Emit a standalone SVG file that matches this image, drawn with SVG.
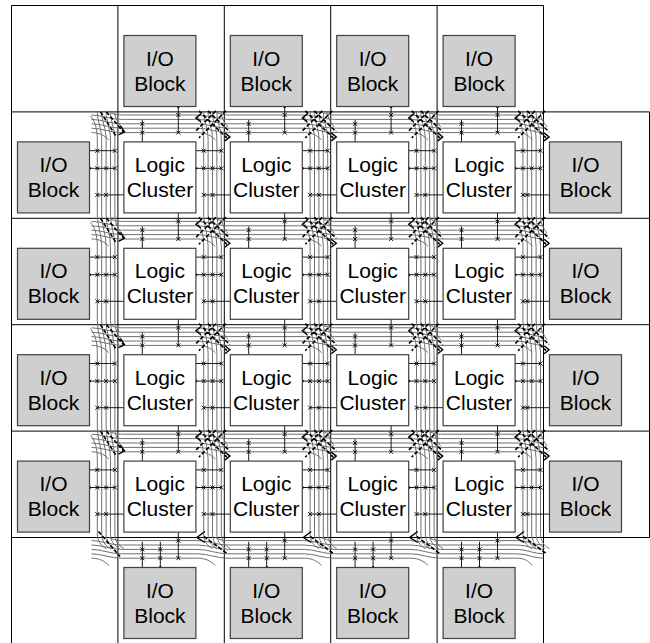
<svg xmlns="http://www.w3.org/2000/svg" xmlns:xlink="http://www.w3.org/1999/xlink" width="650" height="643" viewBox="0 0 650 643">
<style>
.tb{stroke:#000;stroke-width:1;fill:none}
.tr{stroke:#707070;stroke-width:1;fill:none}
.pn{stroke:#000;stroke-width:0.9;fill:none}
.mk{stroke:#000;stroke-width:0.9;fill:none}
.sw{stroke:#000;stroke-width:1.6;stroke-dasharray:4 2;fill:none}
.ch{stroke:#000;stroke-width:1.4;fill:none}
.lc{fill:#fff;stroke:#404040;stroke-width:1.2}
.io{fill:#cfcfcf;stroke:#404040;stroke-width:1.2}
.t{font-family:"Liberation Sans",Arial,sans-serif;font-size:21px;text-anchor:middle;fill:#000}
</style>
<defs>
<g id="hseg" class="tr">
<path d="M-26.4,3.1C-16,3.1 -8,7.5 3.6,7.5H80M-26.4,7.5C-16,7.5 -8,11.9 3.6,11.9H80M-26.4,11.9C-16,11.9 -8,16.3 3.6,16.3H80M-26.4,16.3C-16,16.3 -8,20.7 3.6,20.7H80M-9,0C-5,2 -2,3.1 3.6,3.1H80M-26.4,20.7C-18,20.7 -13,24 -9,28"/>
</g>
<g id="hend" class="tr">
<path d="M80,3.1C90,3.1 96,7.5 106.4,7.5M80,7.5C90,7.5 96,11.9 106.4,11.9M80,11.9C90,11.9 96,16.3 106.4,16.3M80,16.3C90,16.3 96,20.7 106.4,20.7M80,20.7C88,20.7 92,24 95,28"/>
</g>
<g id="vseg" class="tr">
<path d="M85.8,-4C85.8,8 90.2,16 90.2,28V102.4M90.2,-4C90.2,8 94.6,16 94.6,28V102.4M94.6,-4C94.6,8 99,16 99,28V102.4M99,-4C99,8 103.4,16 103.4,28V102.4M79,4C84,10 85.8,18 85.8,28V102.4M103.4,-4C103.4,4 106,10 110,15"/>
</g>
<g id="vseg1" class="tr">
<path d="M85.8,0C85.8,10 90.2,16 90.2,28V102.4M90.2,0C90.2,10 94.6,16 94.6,28V102.4M94.6,0C94.6,10 99,16 99,28V102.4M99,0C99,10 103.4,16 103.4,28V102.4M79,4C84,10 85.8,18 85.8,28V102.4M103.4,0C103.4,6 106,10 110,15"/>
</g>
<g id="vend" class="tr">
<path d="M85.8,-4C85.8,3 88.8,8 94.8,11M90.2,-4C90.2,3 93.2,8 99.2,11M94.6,-4C94.6,3 97.6,8 103.6,11M99,-4C99,3 102,8 108,11M103.4,-4C103.4,3 106.4,8 112.4,11"/>
</g>
<g id="clp">
<path class="pn" d="M24.4,30V8M78,38.8H103.4M78,56.4H103.4M6,83H-20.6M60.4,101V127.1"/>
<circle cx="78" cy="56.4" r="1.5"/>
<path class="mk" d="M22.4,9.9l4,4m0,-4l-4,4M22.4,18.7l4,4m0,-4l-4,4M83.8,36.8l4,4m0,-4l-4,4M101.4,36.8l4,4m0,-4l-4,4M83.8,54.4l4,4m0,-4l-4,4M92.6,54.4l4,4m0,-4l-4,4M101.4,54.4l4,4m0,-4l-4,4M-22.6,81l4,4m0,-4l-4,4M-13.8,81l4,4m0,-4l-4,4M58.4,107.5l4,4m0,-4l-4,4M58.4,125.1l4,4m0,-4l-4,4"/>
</g>
<g id="ioLp">
<path class="pn" d="M78,38.8H103.4M78,56.4H103.4"/>
<circle cx="78" cy="56.4" r="1.5"/>
<path class="mk" d="M83.8,36.8l4,4m0,-4l-4,4M101.4,36.8l4,4m0,-4l-4,4M83.8,54.4l4,4m0,-4l-4,4M92.6,54.4l4,4m0,-4l-4,4M101.4,54.4l4,4m0,-4l-4,4"/>
</g>
<g id="ioRp">
<path class="pn" d="M6,83H-20.6"/>
<path class="mk" d="M-22.6,81l4,4m0,-4l-4,4M-18.2,81l4,4m0,-4l-4,4"/>
</g>
<g id="ioTp">
<path class="pn" d="M60.4,101V127.1"/>
<circle cx="60.4" cy="101" r="1.5"/>
<path class="mk" d="M58.4,107.5l4,4m0,-4l-4,4M58.4,125.1l4,4m0,-4l-4,4"/>
</g>
<g id="ioBp">
<path class="pn" d="M24.4,30V4.2M42.4,30V4.2"/>
<circle cx="42.4" cy="30" r="1.5"/>
<path class="mk" d="M22.4,9.9l4,4m0,-4l-4,4M22.4,18.7l4,4m0,-4l-4,4M40.4,9.9l4,4m0,-4l-4,4M40.4,18.7l4,4m0,-4l-4,4"/>
</g>
<g id="sbI">
<path class="sw" d="M-14,-13L14,14M-5,-13L17,8M13,-13L-14,14M3,-13L-17,7"/>
<path class="ch" d="M-12,-10L-17,-6L-12,-2M12,9L17,13L12,17"/>
</g>
<g id="sbL">
<path class="sw" d="M-6,-12L10,13M0,-12L17,8"/>
<path class="ch" d="M14,2L18,8L12,11"/>
</g>
<g id="sbB">
<path class="sw" d="M-9,-13L14,4"/>
<path class="ch" d="M-8,-18L-16,-12L-8,-7"/>
</g>
<g id="sbBL">
<path class="sw" d="M-8,-18L13.5,7"/>
</g>
</defs>
<rect width="650" height="643" fill="#fff"/>
<g id="grid">
<path class="tb" d="M11.5,5.5H543.5M11.5,111.9H649.5M11.5,218.3H649.5M11.5,324.7H649.5M11.5,431.1H649.5M11.5,537.5H649.5M11.5,5.5V643M117.9,5.5V643M224.3,5.5V643M330.7,5.5V643M437.1,5.5V643M543.5,5.5V643M649.5,111.9V537.5"/>
</g>
<g id="connectors">
<use href="#hseg" x="117.9" y="111.9"/><use href="#hseg" x="224.3" y="111.9"/><use href="#hseg" x="330.7" y="111.9"/><use href="#hseg" x="437.1" y="111.9"/><use href="#hend" x="437.1" y="111.9"/>
<use href="#hseg" x="117.9" y="218.3"/><use href="#hseg" x="224.3" y="218.3"/><use href="#hseg" x="330.7" y="218.3"/><use href="#hseg" x="437.1" y="218.3"/><use href="#hend" x="437.1" y="218.3"/>
<use href="#hseg" x="117.9" y="324.7"/><use href="#hseg" x="224.3" y="324.7"/><use href="#hseg" x="330.7" y="324.7"/><use href="#hseg" x="437.1" y="324.7"/><use href="#hend" x="437.1" y="324.7"/>
<use href="#hseg" x="117.9" y="431.1"/><use href="#hseg" x="224.3" y="431.1"/><use href="#hseg" x="330.7" y="431.1"/><use href="#hseg" x="437.1" y="431.1"/><use href="#hend" x="437.1" y="431.1"/>
<use href="#hseg" x="117.9" y="537.5"/><use href="#hseg" x="224.3" y="537.5"/><use href="#hseg" x="330.7" y="537.5"/><use href="#hseg" x="437.1" y="537.5"/><use href="#hend" x="437.1" y="537.5"/>
<use href="#vseg1" x="11.5" y="111.9"/><use href="#vseg" x="11.5" y="218.3"/><use href="#vseg" x="11.5" y="324.7"/><use href="#vseg" x="11.5" y="431.1"/><use href="#vend" x="11.5" y="537.5"/>
<use href="#vseg1" x="117.9" y="111.9"/><use href="#vseg" x="117.9" y="218.3"/><use href="#vseg" x="117.9" y="324.7"/><use href="#vseg" x="117.9" y="431.1"/><use href="#vend" x="117.9" y="537.5"/>
<use href="#vseg1" x="224.3" y="111.9"/><use href="#vseg" x="224.3" y="218.3"/><use href="#vseg" x="224.3" y="324.7"/><use href="#vseg" x="224.3" y="431.1"/><use href="#vend" x="224.3" y="537.5"/>
<use href="#vseg1" x="330.7" y="111.9"/><use href="#vseg" x="330.7" y="218.3"/><use href="#vseg" x="330.7" y="324.7"/><use href="#vseg" x="330.7" y="431.1"/><use href="#vend" x="330.7" y="537.5"/>
<use href="#vseg1" x="437.1" y="111.9"/><use href="#vseg" x="437.1" y="218.3"/><use href="#vseg" x="437.1" y="324.7"/><use href="#vseg" x="437.1" y="431.1"/><use href="#vend" x="437.1" y="537.5"/>
<use href="#sbL" x="106.5" y="123.9"/><use href="#sbI" x="212.9" y="123.9"/><use href="#sbI" x="319.3" y="123.9"/><use href="#sbI" x="425.7" y="123.9"/><use href="#sbI" x="532.1" y="123.9"/>
<use href="#sbL" x="106.5" y="230.3"/><use href="#sbI" x="212.9" y="230.3"/><use href="#sbI" x="319.3" y="230.3"/><use href="#sbI" x="425.7" y="230.3"/><use href="#sbI" x="532.1" y="230.3"/>
<use href="#sbL" x="106.5" y="336.7"/><use href="#sbI" x="212.9" y="336.7"/><use href="#sbI" x="319.3" y="336.7"/><use href="#sbI" x="425.7" y="336.7"/><use href="#sbI" x="532.1" y="336.7"/>
<use href="#sbL" x="106.5" y="443.1"/><use href="#sbI" x="212.9" y="443.1"/><use href="#sbI" x="319.3" y="443.1"/><use href="#sbI" x="425.7" y="443.1"/><use href="#sbI" x="532.1" y="443.1"/>
<use href="#sbBL" x="106.5" y="549.5"/><use href="#sbB" x="212.9" y="549.5"/><use href="#sbB" x="319.3" y="549.5"/><use href="#sbB" x="425.7" y="549.5"/><use href="#sbB" x="532.1" y="549.5"/>
<use href="#clp" x="117.9" y="111.9"/><use href="#clp" x="224.3" y="111.9"/><use href="#clp" x="330.7" y="111.9"/><use href="#clp" x="437.1" y="111.9"/>
<use href="#clp" x="117.9" y="218.3"/><use href="#clp" x="224.3" y="218.3"/><use href="#clp" x="330.7" y="218.3"/><use href="#clp" x="437.1" y="218.3"/>
<use href="#clp" x="117.9" y="324.7"/><use href="#clp" x="224.3" y="324.7"/><use href="#clp" x="330.7" y="324.7"/><use href="#clp" x="437.1" y="324.7"/>
<use href="#clp" x="117.9" y="431.1"/><use href="#clp" x="224.3" y="431.1"/><use href="#clp" x="330.7" y="431.1"/><use href="#clp" x="437.1" y="431.1"/>
<use href="#ioLp" x="11.5" y="111.9"/><use href="#ioLp" x="11.5" y="218.3"/><use href="#ioLp" x="11.5" y="324.7"/><use href="#ioLp" x="11.5" y="431.1"/>
<use href="#ioRp" x="543.5" y="111.9"/><use href="#ioRp" x="543.5" y="218.3"/><use href="#ioRp" x="543.5" y="324.7"/><use href="#ioRp" x="543.5" y="431.1"/>
<use href="#ioTp" x="117.9" y="5.5"/><use href="#ioTp" x="224.3" y="5.5"/><use href="#ioTp" x="330.7" y="5.5"/><use href="#ioTp" x="437.1" y="5.5"/>
<use href="#ioBp" x="117.9" y="537.5"/><use href="#ioBp" x="224.3" y="537.5"/><use href="#ioBp" x="330.7" y="537.5"/><use href="#ioBp" x="437.1" y="537.5"/>
</g>
<g id="io-top-1"><rect class="io" x="123.9" y="35.5" width="72" height="71"/><text class="t" x="159.9" y="65.5">I/O</text><text class="t" x="159.9" y="90.5">Block</text></g>
<g id="io-top-2"><rect class="io" x="230.3" y="35.5" width="72" height="71"/><text class="t" x="266.3" y="65.5">I/O</text><text class="t" x="266.3" y="90.5">Block</text></g>
<g id="io-top-3"><rect class="io" x="336.7" y="35.5" width="72" height="71"/><text class="t" x="372.7" y="65.5">I/O</text><text class="t" x="372.7" y="90.5">Block</text></g>
<g id="io-top-4"><rect class="io" x="443.1" y="35.5" width="72" height="71"/><text class="t" x="479.1" y="65.5">I/O</text><text class="t" x="479.1" y="90.5">Block</text></g>
<g id="io-bot-1"><rect class="io" x="123.9" y="567.5" width="72" height="71"/><text class="t" x="159.9" y="597.5">I/O</text><text class="t" x="159.9" y="622.5">Block</text></g>
<g id="io-bot-2"><rect class="io" x="230.3" y="567.5" width="72" height="71"/><text class="t" x="266.3" y="597.5">I/O</text><text class="t" x="266.3" y="622.5">Block</text></g>
<g id="io-bot-3"><rect class="io" x="336.7" y="567.5" width="72" height="71"/><text class="t" x="372.7" y="597.5">I/O</text><text class="t" x="372.7" y="622.5">Block</text></g>
<g id="io-bot-4"><rect class="io" x="443.1" y="567.5" width="72" height="71"/><text class="t" x="479.1" y="597.5">I/O</text><text class="t" x="479.1" y="622.5">Block</text></g>
<g id="io-left-1"><rect class="io" x="17.5" y="141.9" width="72" height="71"/><text class="t" x="53.5" y="171.9">I/O</text><text class="t" x="53.5" y="196.9">Block</text></g>
<g id="io-left-2"><rect class="io" x="17.5" y="248.3" width="72" height="71"/><text class="t" x="53.5" y="278.3">I/O</text><text class="t" x="53.5" y="303.3">Block</text></g>
<g id="io-left-3"><rect class="io" x="17.5" y="354.7" width="72" height="71"/><text class="t" x="53.5" y="384.7">I/O</text><text class="t" x="53.5" y="409.7">Block</text></g>
<g id="io-left-4"><rect class="io" x="17.5" y="461.1" width="72" height="71"/><text class="t" x="53.5" y="491.1">I/O</text><text class="t" x="53.5" y="516.1">Block</text></g>
<g id="io-right-1"><rect class="io" x="549.5" y="141.9" width="72" height="71"/><text class="t" x="585.5" y="171.9">I/O</text><text class="t" x="585.5" y="196.9">Block</text></g>
<g id="io-right-2"><rect class="io" x="549.5" y="248.3" width="72" height="71"/><text class="t" x="585.5" y="278.3">I/O</text><text class="t" x="585.5" y="303.3">Block</text></g>
<g id="io-right-3"><rect class="io" x="549.5" y="354.7" width="72" height="71"/><text class="t" x="585.5" y="384.7">I/O</text><text class="t" x="585.5" y="409.7">Block</text></g>
<g id="io-right-4"><rect class="io" x="549.5" y="461.1" width="72" height="71"/><text class="t" x="585.5" y="491.1">I/O</text><text class="t" x="585.5" y="516.1">Block</text></g>
<g id="lc-1-1"><rect class="lc" x="123.9" y="141.9" width="72" height="71"/><text class="t" x="159.9" y="171.9">Logic</text><text class="t" x="159.9" y="196.9">Cluster</text></g>
<g id="lc-1-2"><rect class="lc" x="230.3" y="141.9" width="72" height="71"/><text class="t" x="266.3" y="171.9">Logic</text><text class="t" x="266.3" y="196.9">Cluster</text></g>
<g id="lc-1-3"><rect class="lc" x="336.7" y="141.9" width="72" height="71"/><text class="t" x="372.7" y="171.9">Logic</text><text class="t" x="372.7" y="196.9">Cluster</text></g>
<g id="lc-1-4"><rect class="lc" x="443.1" y="141.9" width="72" height="71"/><text class="t" x="479.1" y="171.9">Logic</text><text class="t" x="479.1" y="196.9">Cluster</text></g>
<g id="lc-2-1"><rect class="lc" x="123.9" y="248.3" width="72" height="71"/><text class="t" x="159.9" y="278.3">Logic</text><text class="t" x="159.9" y="303.3">Cluster</text></g>
<g id="lc-2-2"><rect class="lc" x="230.3" y="248.3" width="72" height="71"/><text class="t" x="266.3" y="278.3">Logic</text><text class="t" x="266.3" y="303.3">Cluster</text></g>
<g id="lc-2-3"><rect class="lc" x="336.7" y="248.3" width="72" height="71"/><text class="t" x="372.7" y="278.3">Logic</text><text class="t" x="372.7" y="303.3">Cluster</text></g>
<g id="lc-2-4"><rect class="lc" x="443.1" y="248.3" width="72" height="71"/><text class="t" x="479.1" y="278.3">Logic</text><text class="t" x="479.1" y="303.3">Cluster</text></g>
<g id="lc-3-1"><rect class="lc" x="123.9" y="354.7" width="72" height="71"/><text class="t" x="159.9" y="384.7">Logic</text><text class="t" x="159.9" y="409.7">Cluster</text></g>
<g id="lc-3-2"><rect class="lc" x="230.3" y="354.7" width="72" height="71"/><text class="t" x="266.3" y="384.7">Logic</text><text class="t" x="266.3" y="409.7">Cluster</text></g>
<g id="lc-3-3"><rect class="lc" x="336.7" y="354.7" width="72" height="71"/><text class="t" x="372.7" y="384.7">Logic</text><text class="t" x="372.7" y="409.7">Cluster</text></g>
<g id="lc-3-4"><rect class="lc" x="443.1" y="354.7" width="72" height="71"/><text class="t" x="479.1" y="384.7">Logic</text><text class="t" x="479.1" y="409.7">Cluster</text></g>
<g id="lc-4-1"><rect class="lc" x="123.9" y="461.1" width="72" height="71"/><text class="t" x="159.9" y="491.1">Logic</text><text class="t" x="159.9" y="516.1">Cluster</text></g>
<g id="lc-4-2"><rect class="lc" x="230.3" y="461.1" width="72" height="71"/><text class="t" x="266.3" y="491.1">Logic</text><text class="t" x="266.3" y="516.1">Cluster</text></g>
<g id="lc-4-3"><rect class="lc" x="336.7" y="461.1" width="72" height="71"/><text class="t" x="372.7" y="491.1">Logic</text><text class="t" x="372.7" y="516.1">Cluster</text></g>
<g id="lc-4-4"><rect class="lc" x="443.1" y="461.1" width="72" height="71"/><text class="t" x="479.1" y="491.1">Logic</text><text class="t" x="479.1" y="516.1">Cluster</text></g>
</svg>
